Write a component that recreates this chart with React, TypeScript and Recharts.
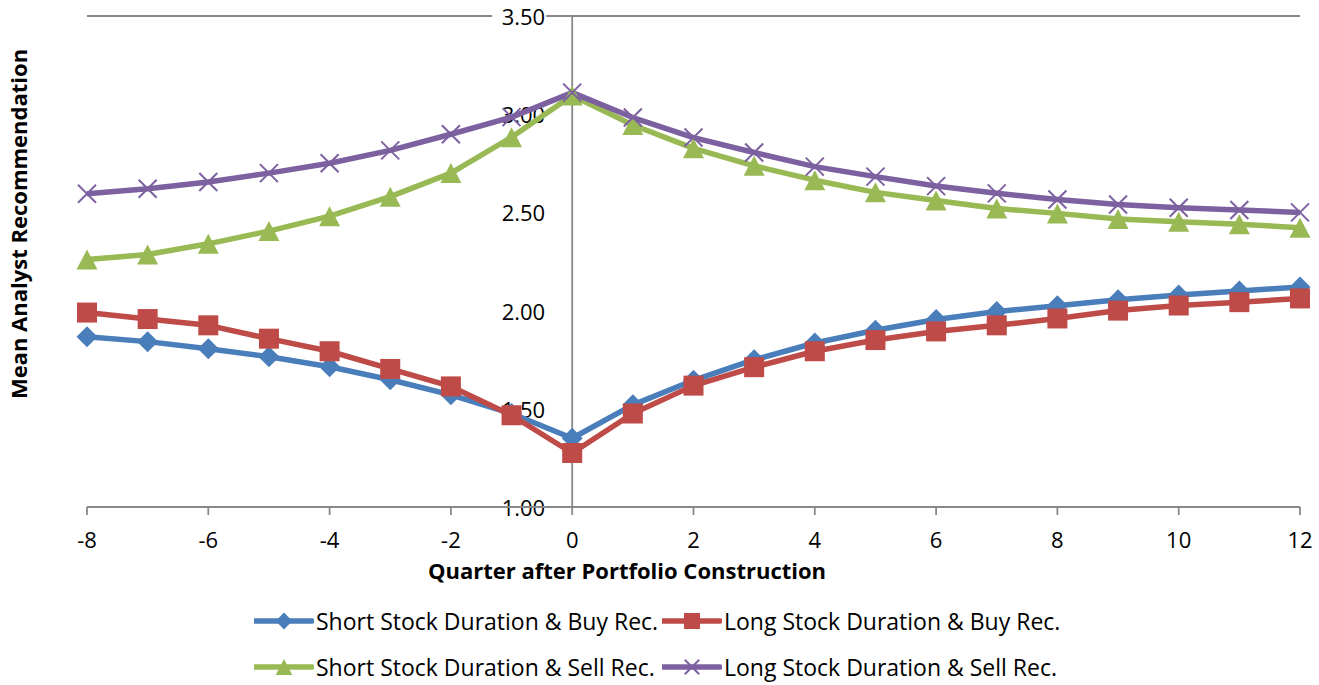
import React from 'react';
import {
  LineChart,
  Line,
  XAxis,
  YAxis,
  CartesianGrid,
  ReferenceLine,
  ReferenceDot,
} from 'recharts';

// quarters relative to portfolio construction
const quarters = [-8, -7, -6, -5, -4, -3, -2, -1, 0, 1, 2, 3, 4, 5, 6, 7, 8, 9, 10, 11, 12];

const shortBuy = [1.867, 1.842, 1.806, 1.765, 1.714, 1.648, 1.571, 1.476, 1.35, 1.52, 1.645, 1.75, 1.835, 1.9, 1.955, 1.995, 2.025, 2.055, 2.08, 2.1, 2.12];
const longBuy = [1.99, 1.957, 1.925, 1.857, 1.793, 1.703, 1.614, 1.467, 1.275, 1.476, 1.618, 1.712, 1.793, 1.85, 1.894, 1.925, 1.96, 2.0, 2.026, 2.043, 2.062];
const shortSell = [2.26, 2.286, 2.34, 2.405, 2.481, 2.58, 2.7, 2.883, 3.095, 2.945, 2.826, 2.737, 2.664, 2.602, 2.561, 2.52, 2.495, 2.466, 2.452, 2.44, 2.422];
const longSell = [2.595, 2.62, 2.655, 2.7, 2.75, 2.816, 2.898, 2.985, 3.11, 2.983, 2.881, 2.805, 2.733, 2.682, 2.634, 2.597, 2.566, 2.54, 2.524, 2.512, 2.5];

const xTicks = [-8, -6, -4, -2, 0, 2, 4, 6, 8, 10, 12];
const yTicks = [1.0, 1.5, 2.0, 2.5, 3.0, 3.5];

const seriesNames = [
  'Short Stock Duration & Buy Rec.',
  'Long Stock Duration & Buy Rec.',
  'Short Stock Duration & Sell Rec.',
  'Long Stock Duration & Sell Rec.',
];

const COLORS = ['#4A7EBB', '#BE4B48', '#98B954', '#7D60A0'];
const GRID = '#888888';
const FONT = '"Open Sans", Lato, sans-serif';

const data = quarters.map((q, i) => ({
  q,
  shortBuy: shortBuy[i],
  longBuy: longBuy[i],
  shortSell: shortSell[i],
  longSell: longSell[i],
}));

type MarkerKind = 'diamond' | 'square' | 'triangle' | 'cross';

const Marker = ({ kind, cx, cy, color, s = 1 }: { kind: MarkerKind; cx: number; cy: number; color: string; s?: number }) => {
  if (kind === 'diamond') {
    const r = 10.5 * s;
    return <path d={`M${cx},${cy - r} L${cx + r},${cy} L${cx},${cy + r} L${cx - r},${cy} Z`} fill={color} />;
  }
  if (kind === 'square') {
    const h = 10 * s;
    return <rect x={cx - h} y={cy - h} width={h * 2} height={h * 2} fill={color} />;
  }
  if (kind === 'triangle') {
    const w = 10.5 * s;
    const h = 10 * s;
    return <path d={`M${cx},${cy - h} L${cx + w},${cy + h} L${cx - w},${cy + h} Z`} fill={color} />;
  }
  const r = 9 * s;
  return (
    <g stroke={color} strokeWidth={2}>
      <line x1={cx - r} y1={cy - r} x2={cx + r} y2={cy + r} />
      <line x1={cx - r} y1={cy + r} x2={cx + r} y2={cy - r} />
    </g>
  );
};

const makeDot = (kind: MarkerKind, color: string) => (props: any) => {
  const { cx, cy, index } = props;
  if (cx == null || cy == null) return <g key={index} />;
  return <Marker key={index} kind={kind} cx={cx} cy={cy} color={color} />;
};

const kinds: MarkerKind[] = ['diamond', 'square', 'triangle', 'cross'];
const keys = ['shortBuy', 'longBuy', 'shortSell', 'longSell'];

// value labels sit just left of the vertical axis, on a white box over the gridline
const YLabel = (value: number) => (props: any) => {
  const { cx, cy } = props;
  return (
    <g>
      <rect x={cx - 80} y={cy - 12} width={54} height={24} fill="#fff" />
      <text x={cx - 27} y={cy} textAnchor="end" dominantBaseline="central" fontSize={22} fontFamily={FONT} fill="#000">
        {value.toFixed(2)}
      </text>
    </g>
  );
};

const XTick = (props: any) => {
  const { x, y, payload } = props;
  return (
    <text x={x} y={y + 33} textAnchor="middle" fontSize={22} fontFamily={FONT} fill="#000">
      {payload.value}
    </text>
  );
};

const LegendItem = ({ idx }: { idx: number }) => (
  <div style={{ display: 'flex', alignItems: 'center' }}>
    <svg width={60} height={24}>
      <line x1={1} y1={12} x2={58} y2={12} stroke={COLORS[idx]} strokeWidth={5.5} strokeLinecap="round" />
      <Marker kind={kinds[idx]} cx={30} cy={12} color={COLORS[idx]} s={0.8} />
    </svg>
    <span style={{ marginLeft: 2, whiteSpace: 'nowrap' }}>{seriesNames[idx]}</span>
  </div>
);

const App: React.FC = () => {
  return (
    <div style={{ position: 'absolute', left: 0, top: 0, width: 1319, height: 685, background: '#fff', fontFamily: FONT }}>
      <LineChart
        width={1319}
        height={685}
        data={data}
        margin={{ top: 16, right: 19, left: 87, bottom: 148 }}
      >
        <CartesianGrid vertical={false} stroke={GRID} strokeWidth={1.8} />
        <XAxis
          dataKey="q"
          type="number"
          domain={[-8, 12]}
          ticks={xTicks}
          height={30}
          stroke={GRID}
          strokeWidth={1.8}
          tickSize={8}
          tickMargin={0}
          tick={<XTick />}
        />
        <YAxis
          type="number"
          domain={[1, 3.5]}
          ticks={yTicks}
          width={0}
          axisLine={false}
          tickLine={false}
          tick={false}
        />
        {yTicks.map((v) => (
          <ReferenceDot key={v} x={0} y={v} r={0} shape={YLabel(v)} zIndex={-50} />
        ))}
        <ReferenceLine x={0} stroke={GRID} strokeWidth={1.8} zIndex={-40} />
        {keys.map((k, i) => (
          <Line
            key={k}
            dataKey={k}
            type="linear"
            stroke={COLORS[i]}
            strokeWidth={5.5}
            strokeLinejoin="round"
            dot={makeDot(kinds[i], COLORS[i])}
            activeDot={false}
            isAnimationActive={false}
          />
        ))}
      </LineChart>

      {/* axis titles */}
      <div
        style={{
          position: 'absolute',
          left: 18,
          top: 224,
          transform: 'translate(-50%, -50%) rotate(-90deg)',
          fontWeight: 700,
          fontSize: 22,
          whiteSpace: 'nowrap',
        }}
      >
        Mean Analyst Recommendation
      </div>
      <div
        style={{
          position: 'absolute',
          left: 627,
          top: 570,
          transform: 'translate(-50%, -50%)',
          fontWeight: 700,
          fontSize: 22,
          whiteSpace: 'nowrap',
        }}
      >
        Quarter after Portfolio Construction
      </div>

      {/* legend */}
      <div
        style={{
          position: 'absolute',
          left: 254,
          top: 609,
          display: 'grid',
          gridTemplateColumns: '408px auto',
          rowGap: 22,
          fontSize: 23,
          lineHeight: '24px',
        }}
      >
        <LegendItem idx={0} />
        <LegendItem idx={1} />
        <LegendItem idx={2} />
        <LegendItem idx={3} />
      </div>
    </div>
  );
};

export default App;
